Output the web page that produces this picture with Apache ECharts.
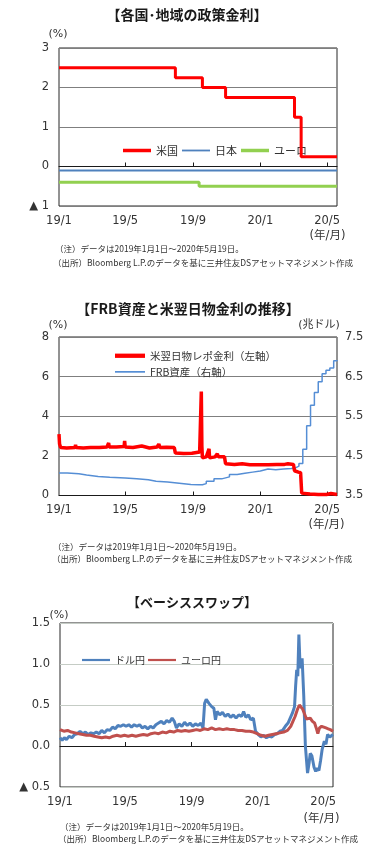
<!DOCTYPE html>
<html><head><meta charset="utf-8">
<script src="https://cdn.jsdelivr.net/npm/echarts@6/dist/echarts.min.js"></script>
<style>html,body{margin:0;padding:0;background:#fff}#c{width:371px;height:853px}</style>
</head><body><div id="c"></div>
<script>
// ---- shared x axis ----
const xStart = '2019-01-01';
const xEnd = '2020-05-19';
const xTickDates = ['2019-01-01','2019-05-01','2019-09-01','2020-01-01','2020-05-01'];
const xTickLabels = ['19/1','19/5','19/9','20/1','20/5'];

// ---- chart 1: policy rates (%) ----
const usRate = [['2019-01-01',2.5],['2019-07-31',2.25],['2019-09-18',2.0],['2019-10-30',1.75],['2020-03-03',1.25],['2020-03-15',0.25],['2020-05-19',0.25]];
const jpRate = [['2019-01-01',-0.1],['2020-05-19',-0.1]];
const euRate = [['2019-01-01',-0.4],['2019-09-12',-0.5],['2020-05-19',-0.5]];

// ---- chart 2: US overnight repo (%, left) and Fed assets (trillion USD, right) ----
const repoRate = [['2019-01-01',3.1],['2019-01-02',2.6],['2019-01-04',2.42],['2019-01-15',2.4],['2019-01-30',2.42],['2019-01-31',2.55],['2019-02-01',2.42],['2019-02-14',2.4],['2019-02-27',2.42],['2019-02-28',2.52],['2019-03-01',2.42],['2019-03-15',2.42],['2019-03-29',2.45],['2019-04-01',2.65],['2019-04-02',2.45],['2019-04-15',2.45],['2019-04-29',2.47],['2019-04-30',2.75],['2019-05-01',2.45],['2019-05-15',2.42],['2019-05-31',2.5],['2019-06-03',2.42],['2019-06-14',2.4],['2019-06-28',2.45],['2019-07-01',2.6],['2019-07-03',2.42],['2019-07-15',2.43],['2019-07-29',2.42],['2019-07-30',2.5],['2019-07-31',2.14],['2019-08-15',2.12],['2019-08-30',2.13],['2019-09-13',2.2],['2019-09-15',2.3],['2019-09-16',5.25],['2019-09-17',2.5],['2019-09-18',1.9],['2019-09-25',1.95],['2019-09-30',2.35],['2019-10-01',1.9],['2019-10-11',1.95],['2019-10-15',2.1],['2019-10-17',1.95],['2019-10-28',1.95],['2019-10-30',1.6],['2019-11-15',1.57],['2019-11-29',1.6],['2019-12-13',1.55],['2019-12-31',1.55],['2020-01-15',1.55],['2020-01-31',1.57],['2020-02-14',1.57],['2020-02-20',1.6],['2020-03-01',1.57],['2020-03-03',1.25],['2020-03-10',1.18],['2020-03-14',1.15],['2020-03-16',0.12],['2020-03-31',0.08],['2020-04-15',0.05],['2020-04-30',0.05],['2020-05-08',0.1],['2020-05-19',0.05]];
const fedAssets = [['2019-01-01',4.07],['2019-01-16',4.05],['2019-02-06',4.02],['2019-02-20',3.98],['2019-03-13',3.96],['2019-04-03',3.94],['2019-05-01',3.92],['2019-05-22',3.9],['2019-06-12',3.86],['2019-06-26',3.84],['2019-07-17',3.81],['2019-08-07',3.78],['2019-08-28',3.77],['2019-09-11',3.77],['2019-09-18',3.8],['2019-09-25',3.86],['2019-10-09',3.92],['2019-10-23',3.97],['2019-11-06',4.03],['2019-11-20',4.06],['2019-12-04',4.09],['2019-12-18',4.12],['2020-01-01',4.17],['2020-01-15',4.15],['2020-01-29',4.17],['2020-02-12',4.18],['2020-02-26',4.19],['2020-03-04',4.24],['2020-03-11',4.31],['2020-03-18',4.67],['2020-03-25',5.26],['2020-04-01',5.78],['2020-04-08',6.1],['2020-04-15',6.37],['2020-04-22',6.57],['2020-04-29',6.66],['2020-05-06',6.72],['2020-05-13',6.9],['2020-05-19',6.92]];

// ---- chart 3: basis swaps (%) ----
const usdJpy = [['2019-01-01',0.1],['2019-01-05',0.07],['2019-01-09',0.1],['2019-01-13',0.08],['2019-01-18',0.12],['2019-01-23',0.1],['2019-01-28',0.14],['2019-02-02',0.15],['2019-02-07',0.18],['2019-02-12',0.15],['2019-02-17',0.17],['2019-02-22',0.14],['2019-02-27',0.16],['2019-03-04',0.15],['2019-03-09',0.17],['2019-03-14',0.15],['2019-03-19',0.19],['2019-03-24',0.16],['2019-03-29',0.2],['2019-04-03',0.19],['2019-04-08',0.23],['2019-04-13',0.21],['2019-04-18',0.25],['2019-04-23',0.24],['2019-04-28',0.26],['2019-05-03',0.24],['2019-05-08',0.26],['2019-05-13',0.23],['2019-05-18',0.26],['2019-05-23',0.24],['2019-05-28',0.26],['2019-06-02',0.22],['2019-06-07',0.24],['2019-06-12',0.21],['2019-06-17',0.24],['2019-06-22',0.22],['2019-06-27',0.26],['2019-07-02',0.28],['2019-07-07',0.3],['2019-07-12',0.27],['2019-07-17',0.31],['2019-07-22',0.29],['2019-07-27',0.34],['2019-07-31',0.3],['2019-08-04',0.22],['2019-08-09',0.27],['2019-08-14',0.24],['2019-08-19',0.29],['2019-08-24',0.25],['2019-08-29',0.28],['2019-09-03',0.24],['2019-09-08',0.27],['2019-09-13',0.25],['2019-09-18',0.28],['2019-09-22',0.22],['2019-09-25',0.52],['2019-09-28',0.57],['2019-10-03',0.52],['2019-10-08',0.48],['2019-10-12',0.46],['2019-10-15',0.32],['2019-10-18',0.42],['2019-10-23',0.38],['2019-10-28',0.41],['2019-11-02',0.36],['2019-11-07',0.39],['2019-11-12',0.35],['2019-11-17',0.38],['2019-11-22',0.34],['2019-11-27',0.38],['2019-12-02',0.36],['2019-12-06',0.42],['2019-12-10',0.35],['2019-12-15',0.38],['2019-12-19',0.32],['2019-12-24',0.34],['2019-12-28',0.18],['2020-01-02',0.14],['2020-01-07',0.11],['2020-01-12',0.13],['2020-01-17',0.1],['2020-01-22',0.12],['2020-01-27',0.11],['2020-02-01',0.14],['2020-02-06',0.15],['2020-02-11',0.18],['2020-02-16',0.19],['2020-02-21',0.24],['2020-02-26',0.28],['2020-03-01',0.34],['2020-03-05',0.4],['2020-03-09',0.48],['2020-03-11',0.73],['2020-03-13',0.93],['2020-03-15',0.85],['2020-03-17',1.36],['2020-03-19',1.01],['2020-03-21',0.95],['2020-03-23',1.07],['2020-03-26',0.61],['2020-03-29',0.0],['2020-04-02',-0.33],['2020-04-05',-0.2],['2020-04-07',-0.09],['2020-04-10',-0.12],['2020-04-14',-0.26],['2020-04-17',-0.31],['2020-04-20',-0.27],['2020-04-23',-0.3],['2020-04-26',-0.18],['2020-04-29',-0.04],['2020-05-03',0.06],['2020-05-06',0.02],['2020-05-09',0.14],['2020-05-13',0.11],['2020-05-19',0.14]];
const eurJpy = [['2019-01-01',0.2],['2019-01-08',0.18],['2019-01-15',0.19],['2019-01-22',0.17],['2019-01-29',0.16],['2019-02-05',0.15],['2019-02-12',0.14],['2019-02-19',0.13],['2019-02-26',0.13],['2019-03-05',0.12],['2019-03-12',0.11],['2019-03-19',0.1],['2019-03-26',0.11],['2019-04-02',0.1],['2019-04-09',0.12],['2019-04-16',0.13],['2019-04-23',0.12],['2019-04-30',0.13],['2019-05-07',0.12],['2019-05-14',0.13],['2019-05-21',0.12],['2019-05-28',0.13],['2019-06-04',0.14],['2019-06-11',0.13],['2019-06-18',0.15],['2019-06-25',0.16],['2019-07-02',0.15],['2019-07-09',0.17],['2019-07-16',0.16],['2019-07-23',0.18],['2019-07-30',0.17],['2019-08-06',0.19],['2019-08-13',0.18],['2019-08-20',0.19],['2019-08-27',0.18],['2019-09-03',0.19],['2019-09-10',0.2],['2019-09-17',0.19],['2019-09-24',0.21],['2019-10-01',0.2],['2019-10-08',0.22],['2019-10-15',0.2],['2019-10-22',0.21],['2019-10-29',0.2],['2019-11-05',0.21],['2019-11-12',0.2],['2019-11-19',0.2],['2019-11-26',0.19],['2019-12-03',0.19],['2019-12-10',0.18],['2019-12-17',0.18],['2019-12-24',0.17],['2019-12-31',0.15],['2020-01-07',0.13],['2020-01-14',0.12],['2020-01-21',0.13],['2020-01-28',0.14],['2020-02-04',0.15],['2020-02-11',0.16],['2020-02-18',0.17],['2020-02-25',0.19],['2020-03-02',0.24],['2020-03-06',0.3],['2020-03-10',0.36],['2020-03-14',0.44],['2020-03-18',0.5],['2020-03-21',0.52],['2020-03-24',0.45],['2020-03-27',0.4],['2020-03-31',0.33],['2020-04-03',0.31],['2020-04-07',0.34],['2020-04-11',0.3],['2020-04-15',0.28],['2020-04-18',0.22],['2020-04-21',0.15],['2020-04-24',0.22],['2020-04-28',0.24],['2020-05-02',0.23],['2020-05-06',0.22],['2020-05-10',0.21],['2020-05-14',0.2],['2020-05-19',0.18]];

// ---------------------------------------------------
const ts = d => Date.parse(d);
const pts = arr => arr.map(p => [ts(p[0]), p[1]]);
const tickTs = xTickDates.map(ts);
const xMin = ts(xStart), xMax = ts(xEnd);
const NUM = "'DejaVu Sans','Noto Sans CJK JP',sans-serif";
const JP = "'Noto Sans CJK JP',sans-serif";
const TXT = '#333';
const xLabelFmt = v => { for (let i = 0; i < tickTs.length; i++) if (Math.abs(tickTs[i] - v) < 86400000) return xTickLabels[i]; return ''; };
const tri = (v, dec) => v < 0 ? '▲ ' + (-v).toFixed(dec) : v.toFixed(dec);
const bar = h => 'path://M0,0H28V' + h + 'H0Z';

function zeroAxis(g) {
  return { type:'value', gridIndex:g, min:xMin, max:xMax, position:'bottom',
    axisLine:{ show:true, onZero:true, lineStyle:{ color:'#1a1a1a', width:1 } },
    axisTick:{ show:true, inside:true, length:4, customValues: tickTs.slice(1), lineStyle:{ color:'#1a1a1a' } },
    axisLabel:{ show:false }, splitLine:{ show:false } };
}
function labelAxis(g) {
  return { type:'value', gridIndex:g, min:xMin, max:xMax, position:'bottom',
    axisLine:{ show:false, onZero:false }, axisTick:{ show:false }, splitLine:{ show:false },
    axisLabel:{ show:true, customValues: tickTs, formatter:xLabelFmt, margin:9, color:TXT, fontFamily:NUM, fontSize:11.5 } };
}
function txt(text, x, y, size, opts) {
  opts = opts || {};
  return { type:'text', silent:true, style:{ text:text, x:x, y:y, fill:opts.fill || TXT,
    font:(opts.bold ? 'bold ' : '') + size + 'px ' + (opts.family || JP),
    align:opts.align || 'left', verticalAlign:'middle', textAlign:opts.align || 'left', textVerticalAlign:'middle' } };
}
const note1 = '（注）データは2019年1月1日～2020年5月19日。';
const note2 = '（出所）Bloomberg L.P.のデータを基に三井住友DSアセットマネジメント作成';

const chart = echarts.init(document.getElementById('c'), null, { renderer:'canvas' });
chart.setOption({
  animation:false,
  backgroundColor:'#fff',
  grid:[
    { left:59, top:48, width:278, height:158, show:true, borderColor:'#262626', borderWidth:1, backgroundColor:'transparent' },
    { left:59, top:337, width:278, height:158.5, show:true, borderColor:'#262626', borderWidth:1, backgroundColor:'transparent' },
    { left:60, top:623, width:273, height:164, show:true, borderColor:'#262626', borderWidth:1, backgroundColor:'transparent' }
  ],
  xAxis:[ zeroAxis(0), labelAxis(0),
    { type:'value', gridIndex:1, min:xMin, max:xMax, position:'bottom',
      axisLine:{ show:true, onZero:false, lineStyle:{ color:'#1a1a1a' } },
      axisTick:{ show:true, inside:true, length:4, customValues: tickTs.slice(1), lineStyle:{ color:'#1a1a1a' } },
      axisLabel:{ show:true, customValues: tickTs, formatter:xLabelFmt, margin:9, color:TXT, fontFamily:NUM, fontSize:11.5 },
      splitLine:{ show:false } },
    zeroAxis(2), labelAxis(2) ],
  yAxis:[
    { type:'value', gridIndex:0, min:-1, max:3, interval:1, axisLine:{ show:false }, axisTick:{ show:false },
      splitLine:{ show:true, lineStyle:{ color:'#7f7f7f', width:1 } },
      axisLabel:{ formatter: v => tri(v, 0), margin:10, color:TXT, fontFamily:NUM, fontSize:11.5 } },
    { type:'value', gridIndex:1, min:0, max:8, interval:2, position:'left', axisLine:{ show:false }, axisTick:{ show:false },
      splitLine:{ show:true, lineStyle:{ color:'#7f7f7f', width:1 } },
      axisLabel:{ formatter: v => String(v), margin:10, color:TXT, fontFamily:NUM, fontSize:11.5 } },
    { type:'value', gridIndex:1, min:3.5, max:7.5, interval:0.5, position:'right', axisLine:{ show:false }, axisTick:{ show:false },
      splitLine:{ show:false },
      axisLabel:{ formatter: v => (Math.round(v * 2) % 2 === 1 ? v.toFixed(1) : ''), margin:8, color:TXT, fontFamily:NUM, fontSize:11.5 } },
    { type:'value', gridIndex:2, min:-0.5, max:1.5, interval:0.5, axisLine:{ show:false }, axisTick:{ show:false },
      splitLine:{ show:true, lineStyle:{ color:'#c5ccc5', width:1 } },
      axisLabel:{ formatter: v => tri(v, 1), margin:10, color:TXT, fontFamily:NUM, fontSize:11.5 } }
  ],
  legend:[
    { data:[{ name:'米国', icon:bar(3.5) },{ name:'日本', icon:bar(1.8) },{ name:'ユーロ', icon:bar(3.5) }],
      orient:'horizontal', left:118, top:140, itemWidth:28, itemHeight:14, itemGap:4, symbolKeepAspect:true,
      textStyle:{ fontFamily:JP, fontSize:11, color:TXT } },
    { data:[{ name:'米翌日物レポ金利（左軸）', icon:bar(4) },{ name:'FRB資産（右軸）', icon:bar(1.6) }],
      orient:'vertical', left:110, top:345.5, itemWidth:30, itemHeight:12, itemGap:5.6, symbolKeepAspect:true,
      textStyle:{ fontFamily:JP, fontSize:10.5, color:TXT } },
    { data:[{ name:'ドル円', icon:bar(2.2) },{ name:'ユーロ円', icon:bar(2.2) }],
      orient:'horizontal', left:77, top:650, itemWidth:28, itemHeight:12, itemGap:3, symbolKeepAspect:true,
      textStyle:{ fontFamily:JP, fontSize:10, color:TXT } }
  ],
  series:[
    { name:'米国', type:'line', xAxisIndex:0, yAxisIndex:0, step:'end', symbol:'none', data:pts(usRate),
      lineStyle:{ color:'#ff0000', width:3 }, itemStyle:{ color:'#ff0000' }, z:4 },
    { name:'日本', type:'line', xAxisIndex:0, yAxisIndex:0, symbol:'none', data:pts(jpRate),
      lineStyle:{ color:'#4f81bd', width:2 }, itemStyle:{ color:'#4f81bd' }, z:3 },
    { name:'ユーロ', type:'line', xAxisIndex:0, yAxisIndex:0, step:'end', symbol:'none', data:pts(euRate),
      lineStyle:{ color:'#92d050', width:3 }, itemStyle:{ color:'#92d050' }, z:3 },
    { name:'FRB資産（右軸）', type:'line', xAxisIndex:2, yAxisIndex:2, step:'end', symbol:'none', data:pts(fedAssets),
      lineStyle:{ color:'#558ed5', width:1.5 }, itemStyle:{ color:'#558ed5' }, z:3 },
    { name:'米翌日物レポ金利（左軸）', type:'line', xAxisIndex:2, yAxisIndex:1, symbol:'none', data:pts(repoRate),
      lineStyle:{ color:'#ff0000', width:3.5 }, itemStyle:{ color:'#ff0000' }, z:4 },
    { name:'ドル円', type:'line', xAxisIndex:3, yAxisIndex:3, symbol:'none', data:pts(usdJpy),
      lineStyle:{ color:'#4f81bd', width:3 }, itemStyle:{ color:'#4f81bd' }, z:3 },
    { name:'ユーロ円', type:'line', xAxisIndex:3, yAxisIndex:3, symbol:'none', data:pts(eurJpy),
      lineStyle:{ color:'#c0504d', width:3 }, itemStyle:{ color:'#c0504d' }, z:4 }
  ],
  graphic:[
    txt('【各国･地域の政策金利】', 187, 15, 14, { align:'center', bold:true, fill:'#1a1a1a' }),
    txt('(%)', 58, 34.5, 11, { align:'center', family:NUM }),
    txt('(年/月)', 327.5, 236, 11.5, { align:'center', family:NUM }),
    txt(note1, 55, 249, 8.5),
    txt(note2, 53, 263, 8.5),

    txt('【FRB資産と米翌日物金利の推移】', 188, 309, 14, { align:'center', bold:true, fill:'#1a1a1a' }),
    txt('(%)', 58, 325, 11, { align:'center', family:NUM }),
    txt('(兆ドル)', 319, 325, 11, { align:'center', family:NUM }),
    txt('(年/月)', 326.5, 525, 11.5, { align:'center', family:NUM }),
    txt(note1, 53, 547, 8.5),
    txt(note2, 52, 558.5, 8.5),

    txt('【ベーシススワップ】', 192, 602, 13, { align:'center', bold:true, fill:'#1a1a1a' }),
    txt('(%)', 59, 615, 11, { align:'center', family:NUM }),
    txt('(年/月)', 321.5, 819, 11.5, { align:'center', family:NUM }),
    txt(note1, 60, 827, 8.5),
    txt(note2, 58, 838.5, 8.5)
  ]
});
</script></body></html>
